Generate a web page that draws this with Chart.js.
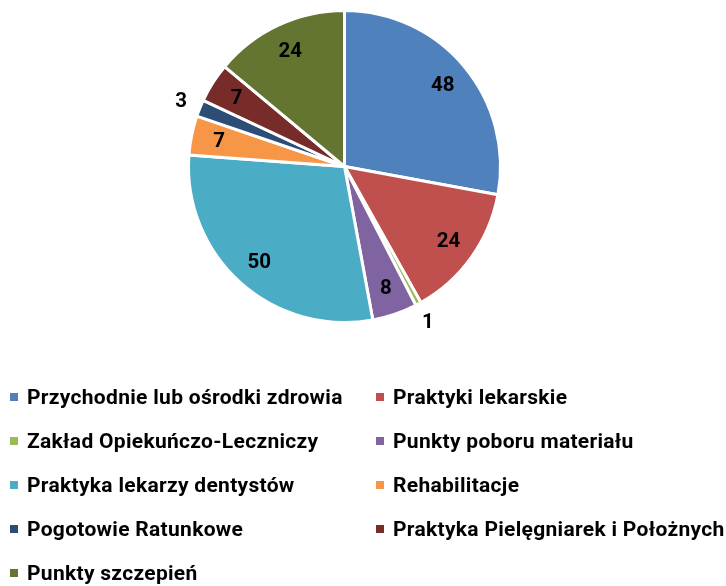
<!DOCTYPE html>
<html>
<head>
<meta charset="utf-8">
<script src="https://cdn.jsdelivr.net/npm/chart.js@4.4.1/dist/chart.umd.min.js"></script>
<style>
  html, body { margin: 0; padding: 0; background: #fff; }
  #wrap { position: relative; width: 726px; height: 586px; overflow: hidden; }
  #chart { position: absolute; left: 0; top: 0; }
  .lg { position: absolute; font-family: Roboto, "Liberation Sans", sans-serif; font-weight: 700; font-size: 21px; letter-spacing: 0.3px; color: #000; white-space: nowrap; line-height: 24px; }
  .lg i { position: absolute; width: 8px; height: 8px; top: 8px; }
</style>
</head>
<body>
<div id="wrap">
  <canvas id="chart" width="726" height="586"></canvas>
</div>
<script>
const categories = [
  "Przychodnie lub ośrodki zdrowia",
  "Praktyki lekarskie",
  "Zakład Opiekuńczo-Leczniczy",
  "Punkty poboru materiału",
  "Praktyka lekarzy dentystów",
  "Rehabilitacje",
  "Pogotowie Ratunkowe",
  "Praktyka Pielęgniarek i Położnych",
  "Punkty szczepień"
];
const values = [48, 24, 1, 8, 50, 7, 3, 7, 24];
const colors = ["#4F81BD", "#C0504D", "#9BBB59", "#8064A2", "#4BACC6", "#F79646", "#2C4D75", "#772C2A", "#637531"];

const labelFont = '700 20.5px Roboto, "Liberation Sans", sans-serif';

const labelPlugin = {
  id: 'sliceLabels',
  afterDatasetsDraw(chart) {
    const ctx = chart.ctx;
    const meta = chart.getDatasetMeta(0);
    ctx.save();
    ctx.font = labelFont;
    ctx.fillStyle = '#000';
    ctx.textAlign = 'center';
    ctx.textBaseline = 'middle';
    meta.data.forEach((arc, i) => {
      const p = arc.getProps(['x', 'y', 'startAngle', 'endAngle', 'outerRadius'], true);
      const mid = (p.startAngle + p.endAngle) / 2;
      const span = p.endAngle - p.startAngle;
      const f = span < 0.2 ? 1.13 : 0.82;
      const r = p.outerRadius * f;
      ctx.fillText(String(values[i]), p.x + Math.cos(mid) * r, p.y + Math.sin(mid) * r + 1);
    });
    ctx.restore();
  }
};

new Chart(document.getElementById('chart'), {
  type: 'pie',
  data: {
    labels: categories,
    datasets: [{
      data: values,
      backgroundColor: colors,
      borderColor: '#ffffff',
      borderWidth: 3,
      hoverBorderWidth: 3,
      hoverOffset: 0
    }]
  },
  options: {
    responsive: false,
    animation: false,
    events: [],
    layout: { padding: { left: 187, top: 9, right: 224, bottom: 262 } },
    plugins: { legend: { display: false }, tooltip: { enabled: false } }
  },
  plugins: [labelPlugin]
});

// legend (two columns)
const wrap = document.getElementById('wrap');
categories.forEach((name, i) => {
  const col = i % 2, row = Math.floor(i / 2);
  const d = document.createElement('div');
  d.className = 'lg';
  const x = col === 0 ? 10 : 376;
  const cy = 397 + row * 44;
  d.style.left = x + 'px';
  d.style.top = (cy - 12) + 'px';
  d.style.paddingLeft = '17px';
  const m = document.createElement('i');
  m.style.left = '0px';
  m.style.background = colors[i];
  d.appendChild(m);
  d.appendChild(document.createTextNode(name));
  wrap.appendChild(d);
});
</script>
</body>
</html>
